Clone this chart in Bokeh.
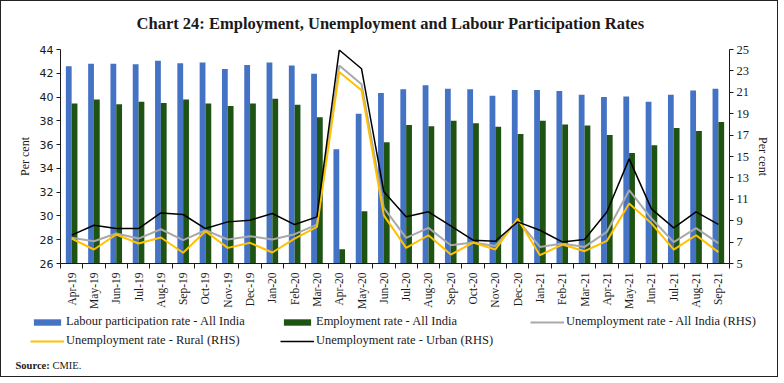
from bokeh.plotting import figure
from bokeh.layouts import column
from bokeh.models import (Range1d, LinearAxis, FixedTicker, Legend, LegendItem,
                          Label, ColumnDataSource)
from bokeh.transform import dodge
from bokeh.embed import file_html
from bokeh.resources import INLINE

months = ["Apr-19", "May-19", "Jun-19", "Jul-19", "Aug-19", "Sep-19", "Oct-19", "Nov-19",
          "Dec-19", "Jan-20", "Feb-20", "Mar-20", "Apr-20", "May-20", "Jun-20", "Jul-20",
          "Aug-20", "Sep-20", "Oct-20", "Nov-20", "Dec-20", "Jan-21", "Feb-21", "Mar-21",
          "Apr-21", "May-21", "Jun-21", "Jul-21", "Aug-21", "Sep-21"]

lpr_all = [42.6, 42.8, 42.8, 42.75, 43.05, 42.85, 42.9, 42.35, 42.7, 42.9, 42.65, 41.95,
           35.6, 38.6, 40.35, 40.65, 41.0, 40.7, 40.65, 40.1, 40.6, 40.6, 40.5, 40.2,
           40.0, 40.05, 39.6, 40.2, 40.55, 40.7]
er_all = [39.45, 39.8, 39.4, 39.6, 39.5, 39.8, 39.45, 39.25, 39.45, 39.85, 39.35, 38.3,
          27.2, 30.4, 36.2, 37.65, 37.55, 38.0, 37.8, 37.5, 36.9, 38.0, 37.7, 37.6,
          36.8, 35.3, 35.95, 37.4, 37.15, 37.9]
ur_all = [7.4, 7.08, 7.8, 7.33, 8.2, 7.18, 8.11, 7.24, 7.55, 7.24, 7.74, 8.64,
          23.5, 21.75, 10.2, 7.39, 8.33, 6.71, 6.96, 6.64, 9.05, 6.55, 6.87, 6.55,
          7.95, 11.85, 9.2, 7.0, 8.3, 6.9]
ur_rural = [7.33, 6.31, 7.71, 6.87, 7.43, 6.0, 8.02, 6.46, 6.93, 6.03, 7.33, 8.42,
            22.9, 21.2, 9.5, 6.46, 7.64, 5.84, 6.96, 6.31, 9.2, 5.78, 6.77, 6.15,
            7.11, 10.6, 8.75, 6.3, 7.64, 6.06]
ur_urban = [7.65, 8.58, 8.27, 8.27, 9.73, 9.58, 8.27, 8.89, 9.05, 9.67, 8.64, 9.36,
            24.95, 23.2, 11.7, 9.36, 9.83, 8.51, 7.18, 7.08, 8.89, 8.11, 7.02, 7.24,
            9.82, 14.78, 10.1, 8.33, 9.82, 8.65]

legend_labels = ["Labour participation rate - All India", "Employment rate - All India",
                 "Unemployment rate - All India (RHS)", "Unemployment rate - Rural (RHS)",
                 "Unemployment rate - Urban (RHS)"]
title_text = "Chart 24: Employment, Unemployment and Labour Participation Rates"

idx = list(range(len(months)))
src = ColumnDataSource(dict(x=idx, lpr=lpr_all, er=er_all, ua=ur_all, ur=ur_rural, uu=ur_urban))

SERIF = "Liberation Serif"
TXT = "#1a1a1a"
blue = "#4472C4"
green = "#1E5314"
grey = "#A9A9A9"
yellow = "#FFC000"

W = 776
H0 = 35
H1 = 276
H2 = 64

# header with title
t = figure(width=W, height=H0, x_range=Range1d(0, W), y_range=Range1d(H0, 0),
           output_backend="svg", toolbar_location=None,
           x_axis_location=None, y_axis_location=None, min_border=0)
t.frame_align = False
t.outline_line_color = None
t.xgrid.visible = False
t.ygrid.visible = False
t.add_layout(Label(x=389, y=21.5, text=title_text, text_font=SERIF, text_font_style="bold",
                   text_font_size="16.5px", text_align="center", text_baseline="middle",
                   text_color=TXT))

# main chart
p = figure(width=W, height=H1, x_range=Range1d(-0.5, len(months) - 0.5),
           y_range=Range1d(26, 44), output_backend="svg", toolbar_location=None,
           min_border_left=59, min_border_right=48, min_border_top=13, min_border_bottom=49)
p.frame_align = False
p.extra_y_ranges = {"rhs": Range1d(5, 25)}
p.outline_line_color = None
p.xgrid.visible = False
p.ygrid.visible = False

r_lpr = p.vbar(x=dodge("x", -0.13, range=p.x_range), top="lpr", bottom=26, width=0.26,
               source=src, fill_color=blue, line_color=None)
r_er = p.vbar(x=dodge("x", 0.13, range=p.x_range), top="er", bottom=26, width=0.26,
              source=src, fill_color=green, line_color=None)
r_ua = p.line("x", "ua", source=src, y_range_name="rhs", line_color=grey, line_width=2)
r_ur = p.line("x", "ur", source=src, y_range_name="rhs", line_color=yellow, line_width=2)
r_uu = p.line("x", "uu", source=src, y_range_name="rhs", line_color="black", line_width=1.5)

# x axis
xa = p.xaxis[0]
xa.ticker = FixedTicker(ticks=idx, minor_ticks=[i - 0.5 for i in range(len(months) + 1)])
xa.major_label_overrides = {i: m for i, m in zip(idx, months)}
xa.major_label_orientation = 3.14159265 / 2
xa.major_tick_out = 0
xa.major_tick_in = 0
xa.minor_tick_out = 5
xa.minor_tick_in = 0
xa.major_label_standoff = 4
xa.major_label_text_font = SERIF
xa.major_label_text_font_size = "11.5px"
xa.major_label_text_color = TXT
xa.axis_line_color = TXT
xa.minor_tick_line_color = TXT

# left axis
ya = p.yaxis[0]
ya.ticker = FixedTicker(ticks=list(range(26, 45, 2)))
ya.minor_tick_line_color = None
ya.major_tick_out = 4
ya.major_tick_in = 0
ya.major_label_standoff = 3
ya.major_label_text_font = "DejaVu Sans"
ya.major_label_text_font_size = "11px"
ya.major_label_text_color = TXT
ya.axis_label = "Per cent"
ya.axis_label_text_font = SERIF
ya.axis_label_text_font_style = "normal"
ya.axis_label_text_font_size = "12px"
ya.axis_label_text_color = TXT
ya.axis_label_standoff = 5
ya.axis_line_color = TXT
ya.major_tick_line_color = TXT

ra = LinearAxis(y_range_name="rhs", ticker=FixedTicker(ticks=list(range(5, 26, 2))))
ra.minor_tick_line_color = None
ra.major_tick_out = 4
ra.major_tick_in = 0
ra.major_label_standoff = 3
ra.major_label_text_font = SERIF
ra.major_label_text_font_size = "12.5px"
ra.major_label_text_color = TXT
ra.axis_label = "Per cent"
ra.axis_label_text_font = SERIF
ra.axis_label_text_font_style = "normal"
ra.axis_label_text_font_size = "12px"
ra.axis_label_text_color = TXT
ra.axis_label_standoff = 4
ra.axis_line_color = TXT
ra.major_tick_line_color = TXT
p.add_layout(ra, "right")

# lower panel: legend and source note
q = figure(width=W, height=H2, x_range=Range1d(0, W), y_range=Range1d(H2, 0),
           output_backend="svg", toolbar_location=None,
           x_axis_location=None, y_axis_location=None, min_border=0)
q.frame_align = False
q.outline_line_color = None
q.xgrid.visible = False
q.ygrid.visible = False
# legend keys reuse the real series on a y range far outside the visible panel
q.extra_y_ranges = {"off": Range1d(1000, 2000)}
k_lpr = q.vbar(x="x", top="lpr", width=0.26, source=src, y_range_name="off",
               fill_color=blue, line_color=None)
k_er = q.vbar(x="x", top="er", width=0.26, source=src, y_range_name="off",
              fill_color=green, line_color=None)
k_ua = q.line("x", "ua", source=src, y_range_name="off", line_color=grey, line_width=2)
k_ur = q.line("x", "ur", source=src, y_range_name="off", line_color=yellow, line_width=2)
k_uu = q.line("x", "uu", source=src, y_range_name="off", line_color="black", line_width=1.5)

legend = Legend(items=[LegendItem(label=lab, renderers=[r]) for lab, r in
                       zip(legend_labels, [k_lpr, k_er, k_ua, k_ur, k_uu])],
                location=(29, 27.8), orientation="horizontal", ncols=3)
legend.padding = 0
legend.margin = 0
legend.spacing = 4
legend.border_line_color = None
legend.background_fill_alpha = 0
legend.glyph_width = 34
legend.glyph_height = 8
legend.label_height = 14
legend.label_width = 210
legend.label_standoff = 2
legend.label_text_font = SERIF
legend.label_text_font_size = "12.5px"
legend.label_text_color = TXT
q.add_layout(legend, "center")

q.add_layout(Label(x=14, y=52.5, text="Source:", text_font=SERIF, text_font_style="bold",
                   text_font_size="10.5px", text_baseline="middle", text_color=TXT))
q.add_layout(Label(x=51, y=52.5, text="CMIE.", text_font=SERIF,
                   text_font_size="10.5px", text_baseline="middle", text_color=TXT))

lay = column(t, p, q, spacing=0, styles={"border": "1.5px solid #222222"})

open("out.html", "w").write(file_html(lay, INLINE))
